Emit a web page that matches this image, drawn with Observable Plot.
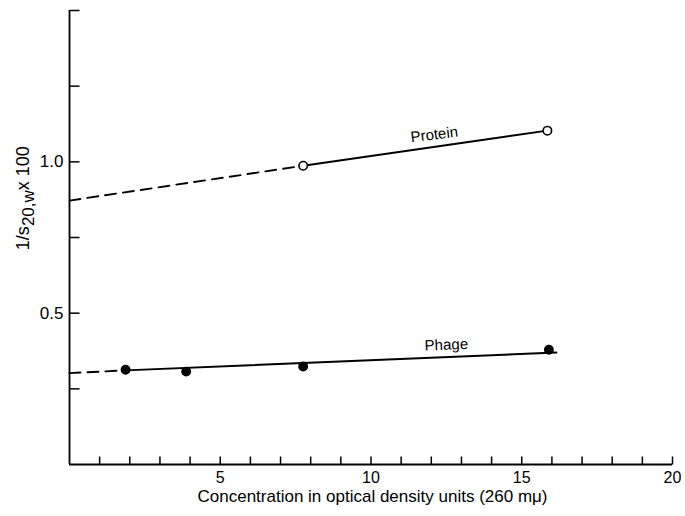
<!DOCTYPE html>
<html>
<head>
<meta charset="utf-8">
<script src="https://cdn.jsdelivr.net/npm/d3@7"></script>
<script src="https://cdn.jsdelivr.net/npm/@observablehq/plot@0.6"></script>
<style>
  html, body { margin: 0; padding: 0; background: #fff; }
</style>
</head>
<body>
<div id="chart"></div>
<script>
// Data
const proteinX = [7.75, 15.85];
const proteinY = [0.987, 1.103];
const proteinFitX = [0, 7.75, 15.85];
const proteinFitY = [0.872, 0.987, 1.103];

const phageX = [1.86, 3.87, 7.75, 15.9];
const phageY = [0.313, 0.307, 0.324, 0.379];
const phageFitX = [0, 1.86, 16.15];
const phageFitY = [0.302, 0.311, 0.370];

const xMinorTicks = [1,2,3,4,5,6,7,8,9,10,11,12,13,14,15,16,17,18,19,20];
const xTickLabels = [5, 10, 15, 20];
const yMinorTicks = [0.25, 0.5, 0.75, 1.0, 1.25, 1.5];
const yTickLabels = [0.5, 1.0];

const seriesLabels = ["Protein", "Phage"];
const seriesLabelX = [12.1, 12.5];
const seriesLabelY = [1.09, 0.395];
const xTitle = "Concentration in optical density units (260 m\u03bc)";
const yTitleParts = ["1/s", "20,w", "x 100"];

const pts = (xs, ys) => xs.map((x, i) => ({x, y: ys[i]}));

const tickUp = {draw(ctx) { ctx.moveTo(0, 0); ctx.lineTo(0, -8); }};
const tickRight = {draw(ctx) { ctx.moveTo(0, 0); ctx.lineTo(10, 0); }};

const font = "'Liberation Sans', Arial, sans-serif";
const dash = "11,7";

const pFit = pts(proteinFitX, proteinFitY);
const gFit = pts(phageFitX, phageFitY);

const chart = Plot.plot({
  width: 685,
  height: 516,
  marginLeft: 69,
  marginRight: 13,
  marginTop: 10,
  marginBottom: 52,
  style: {fontFamily: font, fontSize: "16px", background: "#fff", color: "#000"},
  x: {domain: [0, 20], axis: null},
  y: {domain: [0, 1.5], axis: null},
  marks: [
    // axis lines
    Plot.ruleY([0], {x1: 0, x2: 20, stroke: "#000", strokeWidth: 1.8}),
    Plot.ruleX([0], {y1: 0, y2: 1.5, stroke: "#000", strokeWidth: 1.8}),
    // inward ticks
    Plot.dot(xMinorTicks, {x: d => d, y: 0, symbol: tickUp, r: 4, fill: "none", stroke: "#000", strokeWidth: 1.5}),
    Plot.dot(yMinorTicks, {x: 0, y: d => d, symbol: tickRight, r: 4, fill: "none", stroke: "#000", strokeWidth: 1.5}),
    // tick labels
    Plot.text(xTickLabels, {x: d => d, y: 0, text: d => String(d), dy: 13, fontSize: 16, fill: "#000"}),
    Plot.text(yTickLabels, {x: 0, y: d => d, text: d => d.toFixed(1), dx: -6, textAnchor: "end", fontSize: 17, fill: "#000"}),
    // axis titles
    Plot.text([xTitle], {frameAnchor: "bottom", x: 10.05, text: d => d, dy: 37, textAnchor: "middle", fontSize: 17, fill: "#000"}),
    Plot.text([yTitleParts.join("")], {frameAnchor: "left", y: 0.88, text: d => d, dx: -46, rotate: -90, textAnchor: "middle", fontSize: 18, fill: "#000", className: "ytitle"}),
    // fitted lines: dashed extrapolation + solid fit
    Plot.line(pFit.slice(0, 2), {x: "x", y: "y", stroke: "#000", strokeWidth: 1.9, strokeDasharray: dash}),
    Plot.line(pFit.slice(1), {x: "x", y: "y", stroke: "#000", strokeWidth: 1.9}),
    Plot.line(gFit.slice(0, 2), {x: "x", y: "y", stroke: "#000", strokeWidth: 1.9, strokeDasharray: dash}),
    Plot.line(gFit.slice(1), {x: "x", y: "y", stroke: "#000", strokeWidth: 1.9}),
    // data points
    Plot.dot(pts(proteinX, proteinY), {x: "x", y: "y", r: 4.2, fill: "#fff", stroke: "#000", strokeWidth: 1.6}),
    Plot.dot(pts(phageX, phageY), {x: "x", y: "y", r: 4.2, fill: "#000", stroke: "#000"}),
    // series labels
    Plot.text([0], {x: seriesLabelX[0], y: seriesLabelY[0], text: () => seriesLabels[0], rotate: -7, fontSize: 15, fill: "#000"}),
    Plot.text([0], {x: seriesLabelX[1], y: seriesLabelY[1], text: () => seriesLabels[1], rotate: -2, fontSize: 15, fill: "#000"})
  ]
});

// subscript in the y title
const t = d3.select(chart).select(".ytitle text");
if (!t.empty()) {
  t.text(null);
  t.append("tspan").text(yTitleParts[0]);
  t.append("tspan").attr("dy", "0.3em").attr("font-size", 17).text(yTitleParts[1]);
  t.append("tspan").attr("dy", "-0.3em").text(yTitleParts[2]);
}

document.getElementById("chart").appendChild(chart);
</script>
</body>
</html>
